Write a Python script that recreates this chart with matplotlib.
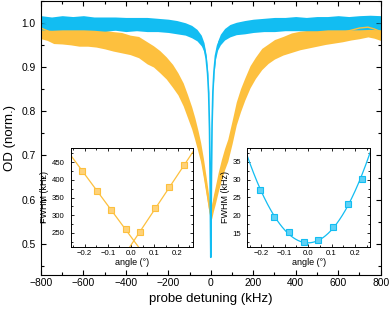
import matplotlib
matplotlib.use("Agg")
import matplotlib.pyplot as plt
import numpy as np
from matplotlib.ticker import MultipleLocator

plt.rcParams["font.family"] = ["Liberation Sans", "DejaVu Sans"]

# ---------------- main spectra ----------------
# orange trace: centre of the noisy band and its half width
orange_khz = [-800, -770, -740, -700, -660, -620, -580, -540, -500, -460, -420,
              -380, -340, -300, -270, -240, -210, -180, -155, -130, -110, -90,
              -75, -60, -48, -35, -22, -12, -5, 0, 5, 12, 22, 35, 50, 65, 80,
              100, 120, 140, 160, 185, 210, 240, 270, 300, 340, 380, 420, 460,
              500, 540, 580, 620, 660, 700, 740, 770, 800]
orange_od = [0.988, 0.982, 0.975, 0.972, 0.970, 0.968, 0.966, 0.965, 0.962, 0.958, 0.955,
             0.950, 0.945, 0.932, 0.924, 0.912, 0.898, 0.880, 0.862, 0.838, 0.812, 0.785,
             0.760, 0.732, 0.708, 0.672, 0.632, 0.600, 0.578, 0.566, 0.575, 0.592, 0.612, 0.640, 0.668, 0.692, 0.712,
             0.752, 0.795, 0.825, 0.850, 0.878, 0.898, 0.918, 0.930, 0.940, 0.948, 0.955, 0.960, 0.963,
             0.967, 0.970, 0.974, 0.978, 0.983, 0.988, 0.990, 0.986, 0.980]
orange_hw = [0.024, 0.022, 0.022, 0.020, 0.020, 0.021, 0.019, 0.020, 0.021, 0.022, 0.023,
             0.022, 0.024, 0.025, 0.024, 0.025, 0.025, 0.026, 0.025, 0.026, 0.026, 0.025,
             0.025, 0.024, 0.022, 0.022, 0.020, 0.018, 0.016, 0.015, 0.016, 0.018, 0.020, 0.022, 0.023, 0.024, 0.025,
             0.026, 0.026, 0.026, 0.025, 0.025, 0.024, 0.024, 0.022, 0.022, 0.021, 0.022, 0.021, 0.020,
             0.020, 0.019, 0.020, 0.021, 0.022, 0.024, 0.022, 0.021, 0.020]

# cyan trace
cyan_khz = [-800, -750, -700, -650, -600, -550, -500, -450, -400, -350, -300, -250,
            -200, -160, -120, -90, -65, -45, -32, -22, -15, -10, -6, -3, -1, 0,
            1, 3, 6, 10, 15, 22, 32, 45, 65, 90, 120, 160, 200, 250, 300, 350,
            400, 450, 500, 550, 600, 650, 700, 750, 800]
cyan_od = [1.000, 0.998, 1.000, 0.999, 1.000, 0.998, 0.997, 0.998, 0.996, 0.997, 0.996, 0.995,
           0.993, 0.990, 0.986, 0.980, 0.972, 0.960, 0.945, 0.920, 0.885, 0.840, 0.760, 0.640, 0.520, 0.470,
           0.530, 0.650, 0.770, 0.845, 0.890, 0.925, 0.948, 0.962, 0.974, 0.982, 0.987, 0.990, 0.993, 0.995, 0.996, 0.997,
           0.998, 0.997, 0.998, 0.999, 1.000, 0.999, 1.000, 1.001, 1.000]
cyan_hw = [0.016, 0.015, 0.016, 0.015, 0.016, 0.015, 0.016, 0.015, 0.016, 0.015, 0.016, 0.015,
           0.015, 0.015, 0.014, 0.014, 0.013, 0.012, 0.010, 0.008, 0.006, 0.005, 0.004, 0.003, 0.002, 0.002,
           0.002, 0.003, 0.004, 0.005, 0.006, 0.008, 0.010, 0.012, 0.013, 0.014, 0.014, 0.015, 0.015, 0.015, 0.016, 0.015,
           0.016, 0.015, 0.016, 0.015, 0.016, 0.015, 0.016, 0.016, 0.016]

# ---------------- insets: FWHM vs angle ----------------
angle_orange = [-0.211, -0.148, -0.087, -0.023, 0.039, 0.101, 0.165, 0.228]
fwhm_orange = [426, 369, 314, 260, 254, 321, 381, 442]
# two straight fits (intercept in kHz, slope in kHz/deg)
fit_neg_int, fit_neg_slope = 239.0, -890.0
fit_pos_int, fit_pos_slope = 216.0, 990.0

angle_cyan = [-0.207, -0.144, -0.082, -0.019, 0.044, 0.106, 0.169, 0.231]
fwhm_cyan = [27.1, 19.6, 15.4, 12.6, 13.2, 16.6, 23.1, 30.3]
# parabolic fit  c + k * angle^2
fit_c, fit_k = 12.3, 360.0

orange = "#FDC03E"
cyan = "#12BDF2"

fig = plt.figure(figsize=(3.9, 3.1), dpi=100)
ax = fig.add_axes([0.105, 0.113, 0.871, 0.885])

ax.fill_between(orange_khz, np.array(orange_od) - orange_hw,
                np.array(orange_od) + orange_hw, color=orange, lw=0)
ax.plot(orange_khz, orange_od, color=orange, lw=1.0)
ax.fill_between(cyan_khz, np.array(cyan_od) - cyan_hw,
                np.array(cyan_od) + cyan_hw, color=cyan, lw=0)
ax.plot(cyan_khz, cyan_od, color=cyan, lw=1.2)

ax.set_xlim(-800, 800)
ax.set_ylim(0.43, 1.05)
ax.xaxis.set_major_locator(MultipleLocator(200))
ax.xaxis.set_minor_locator(MultipleLocator(100))
ax.yaxis.set_major_locator(MultipleLocator(0.1))
ax.yaxis.set_minor_locator(MultipleLocator(0.05))
ax.tick_params(which="both", direction="in", top=True, right=True, width=0.8)
ax.tick_params(which="major", length=3.5, labelsize=7.4)
ax.tick_params(which="minor", length=2)
ax.tick_params(axis="x", pad=2.5)
ax.tick_params(axis="y", pad=4)
ax.set_yticks([0.5, 0.6, 0.7, 0.8, 0.9, 1.0])
ax.set_yticklabels(["0.5", "0.6", "0.7", "0.8", "0.9", "1.0"])
ax.set_xlabel("probe detuning (kHz)", fontsize=9.5, labelpad=3)
ax.set_ylabel("OD (norm.)", fontsize=9.5, labelpad=4)
for s in ax.spines.values():
    s.set_linewidth(0.8)


def style_inset(a):
    a.tick_params(which="both", direction="in", top=True, right=True, width=0.6)
    a.tick_params(which="major", length=2.5, labelsize=5.6)
    a.tick_params(which="minor", length=1.5)
    a.tick_params(axis="x", pad=2)
    a.tick_params(axis="y", pad=4.5)
    a.set_xlim(-0.26, 0.265)
    a.xaxis.set_major_locator(MultipleLocator(0.1))
    a.xaxis.set_minor_locator(MultipleLocator(0.05))
    a.set_xlabel("angle (°)", fontsize=6.5, labelpad=1)
    a.set_ylabel("FWHM (kHz)", fontsize=6.5, labelpad=2)
    for s in a.spines.values():
        s.set_linewidth(0.7)


# left inset
ax1 = fig.add_axes([0.181, 0.204, 0.313, 0.318])
xx = np.array([-0.3, 0.3])
ax1.plot(xx, fit_neg_int + fit_neg_slope * xx, color=orange, lw=0.9)
ax1.plot(xx, fit_pos_int + fit_pos_slope * xx, color=orange, lw=0.9)
ax1.plot(angle_orange, fwhm_orange, "s", ms=3.8, mfc="#FFD27A", mec=orange, mew=0.8)
style_inset(ax1)
ax1.set_ylim(211, 490)
ax1.yaxis.set_major_locator(MultipleLocator(50))
ax1.yaxis.set_minor_locator(MultipleLocator(25))

# right inset
ax2 = fig.add_axes([0.634, 0.204, 0.315, 0.318])
xc = np.linspace(-0.3, 0.3, 200)
ax2.plot(xc, fit_c + fit_k * xc ** 2, color=cyan, lw=0.9)
ax2.plot(angle_cyan, fwhm_cyan, "s", ms=3.8, mfc="#5FD2F6", mec=cyan, mew=0.8)
style_inset(ax2)
ax2.set_ylim(11.2, 38.8)
ax2.yaxis.set_major_locator(MultipleLocator(5))
ax2.yaxis.set_minor_locator(MultipleLocator(2.5))

fig.savefig("out.png", dpi=100)
